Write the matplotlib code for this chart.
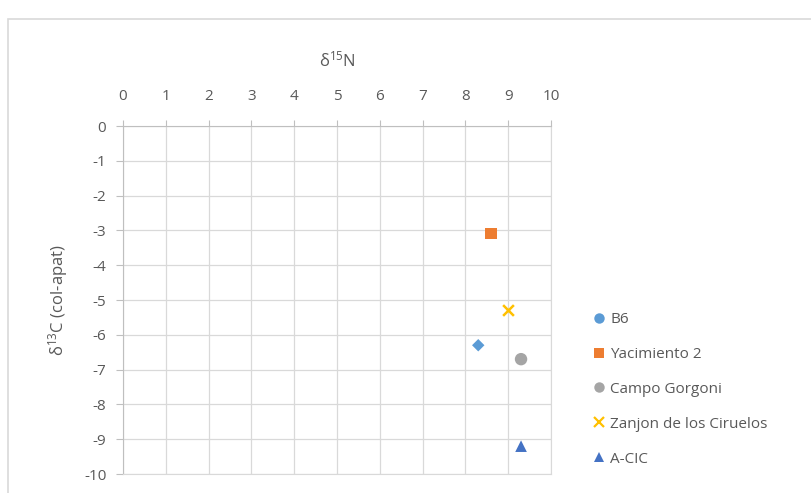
import matplotlib.pyplot as plt
from matplotlib.lines import Line2D
from matplotlib.patches import Rectangle

# data
sites = ["B6", "Yacimiento 2", "Campo Gorgoni", "Zanjon de los Ciruelos", "A-CIC"]
d15n = [8.3, 8.6, 9.3, 9.0, 9.3]
d13c = [-6.3, -3.1, -6.7, -5.3, -9.2]
colors = ["#5B9BD5", "#ED7D31", "#A5A5A5", "#FFC000", "#4472C4"]
markers = ["D", "s", "o", "x", "^"]
legend_markers = ["o", "s", "o", "x", "^"]
sizes = [40, 65, 80, 60, 70]

x_ticks = list(range(0, 11))
y_ticks = list(range(0, -11, -1))

plt.rcParams["font.family"] = ["Open Sans", "DejaVu Sans"]
plt.rcParams["axes.unicode_minus"] = False
plt.rcParams["mathtext.default"] = "regular"
text_col = "#595959"

fig = plt.figure(figsize=(8.11, 4.93), dpi=100)
fig.patches.append(Rectangle((8 / 811, -0.1), 1.1, 1 - 19 / 493 + 0.1,
                             transform=fig.transFigure, fill=False,
                             edgecolor="#d9d9d9", linewidth=1.2))

ax = fig.add_axes([123 / 811, 1 - 474 / 493, 428 / 811, 348 / 493])

for name, x, y, c, m, s in zip(sites, d15n, d13c, colors, markers, sizes):
    if m == "x":
        ax.scatter(x, y, marker=m, s=s, color=c, linewidths=1.8, zorder=3)
    else:
        ax.scatter(x, y, marker=m, s=s, color=c, edgecolors="none", zorder=3)

ax.set_xlim(0, 10)
ax.set_ylim(-10, 0)
ax.set_xticks(x_ticks)
ax.set_yticks(y_ticks)
ax.xaxis.tick_top()
ax.xaxis.set_label_position("top")
ax.tick_params(axis="x", length=4, width=0.8, color="#bfbfbf", pad=12,
               labelsize=11, labelcolor=text_col)
ax.tick_params(axis="y", length=5, width=0.8, color="#bfbfbf", pad=7,
               labelsize=11, labelcolor=text_col)
ax.grid(True, color="#d9d9d9", linewidth=0.9)
ax.set_axisbelow(True)
for side in ["right", "bottom"]:
    ax.spines[side].set_color("#d9d9d9")
for side in ["left", "top"]:
    ax.spines[side].set_color("#bfbfbf")

ax.set_xlabel(r"δ$^{15}$N", fontsize=12, color=text_col, labelpad=16)
ax.set_ylabel(r"δ$^{13}$C (col-apat)", fontsize=12, color=text_col, labelpad=10)

handles = []
for name, c, m in zip(sites, colors, legend_markers):
    handles.append(Line2D([], [], linestyle="none", marker=m, color=c,
                          markeredgecolor=c if m == "x" else "none",
                          markeredgewidth=1.6, markersize=7.5, label=name))
leg = fig.legend(handles=handles, loc="upper left",
                 bbox_to_anchor=(588 / 811, 1 - 306 / 493), frameon=False,
                 fontsize=11, labelspacing=1.3, handlelength=0.7,
                 handletextpad=0.35, borderaxespad=0)
for t in leg.get_texts():
    t.set_color(text_col)

plt.savefig("out.png", dpi=100)
plt.close()
